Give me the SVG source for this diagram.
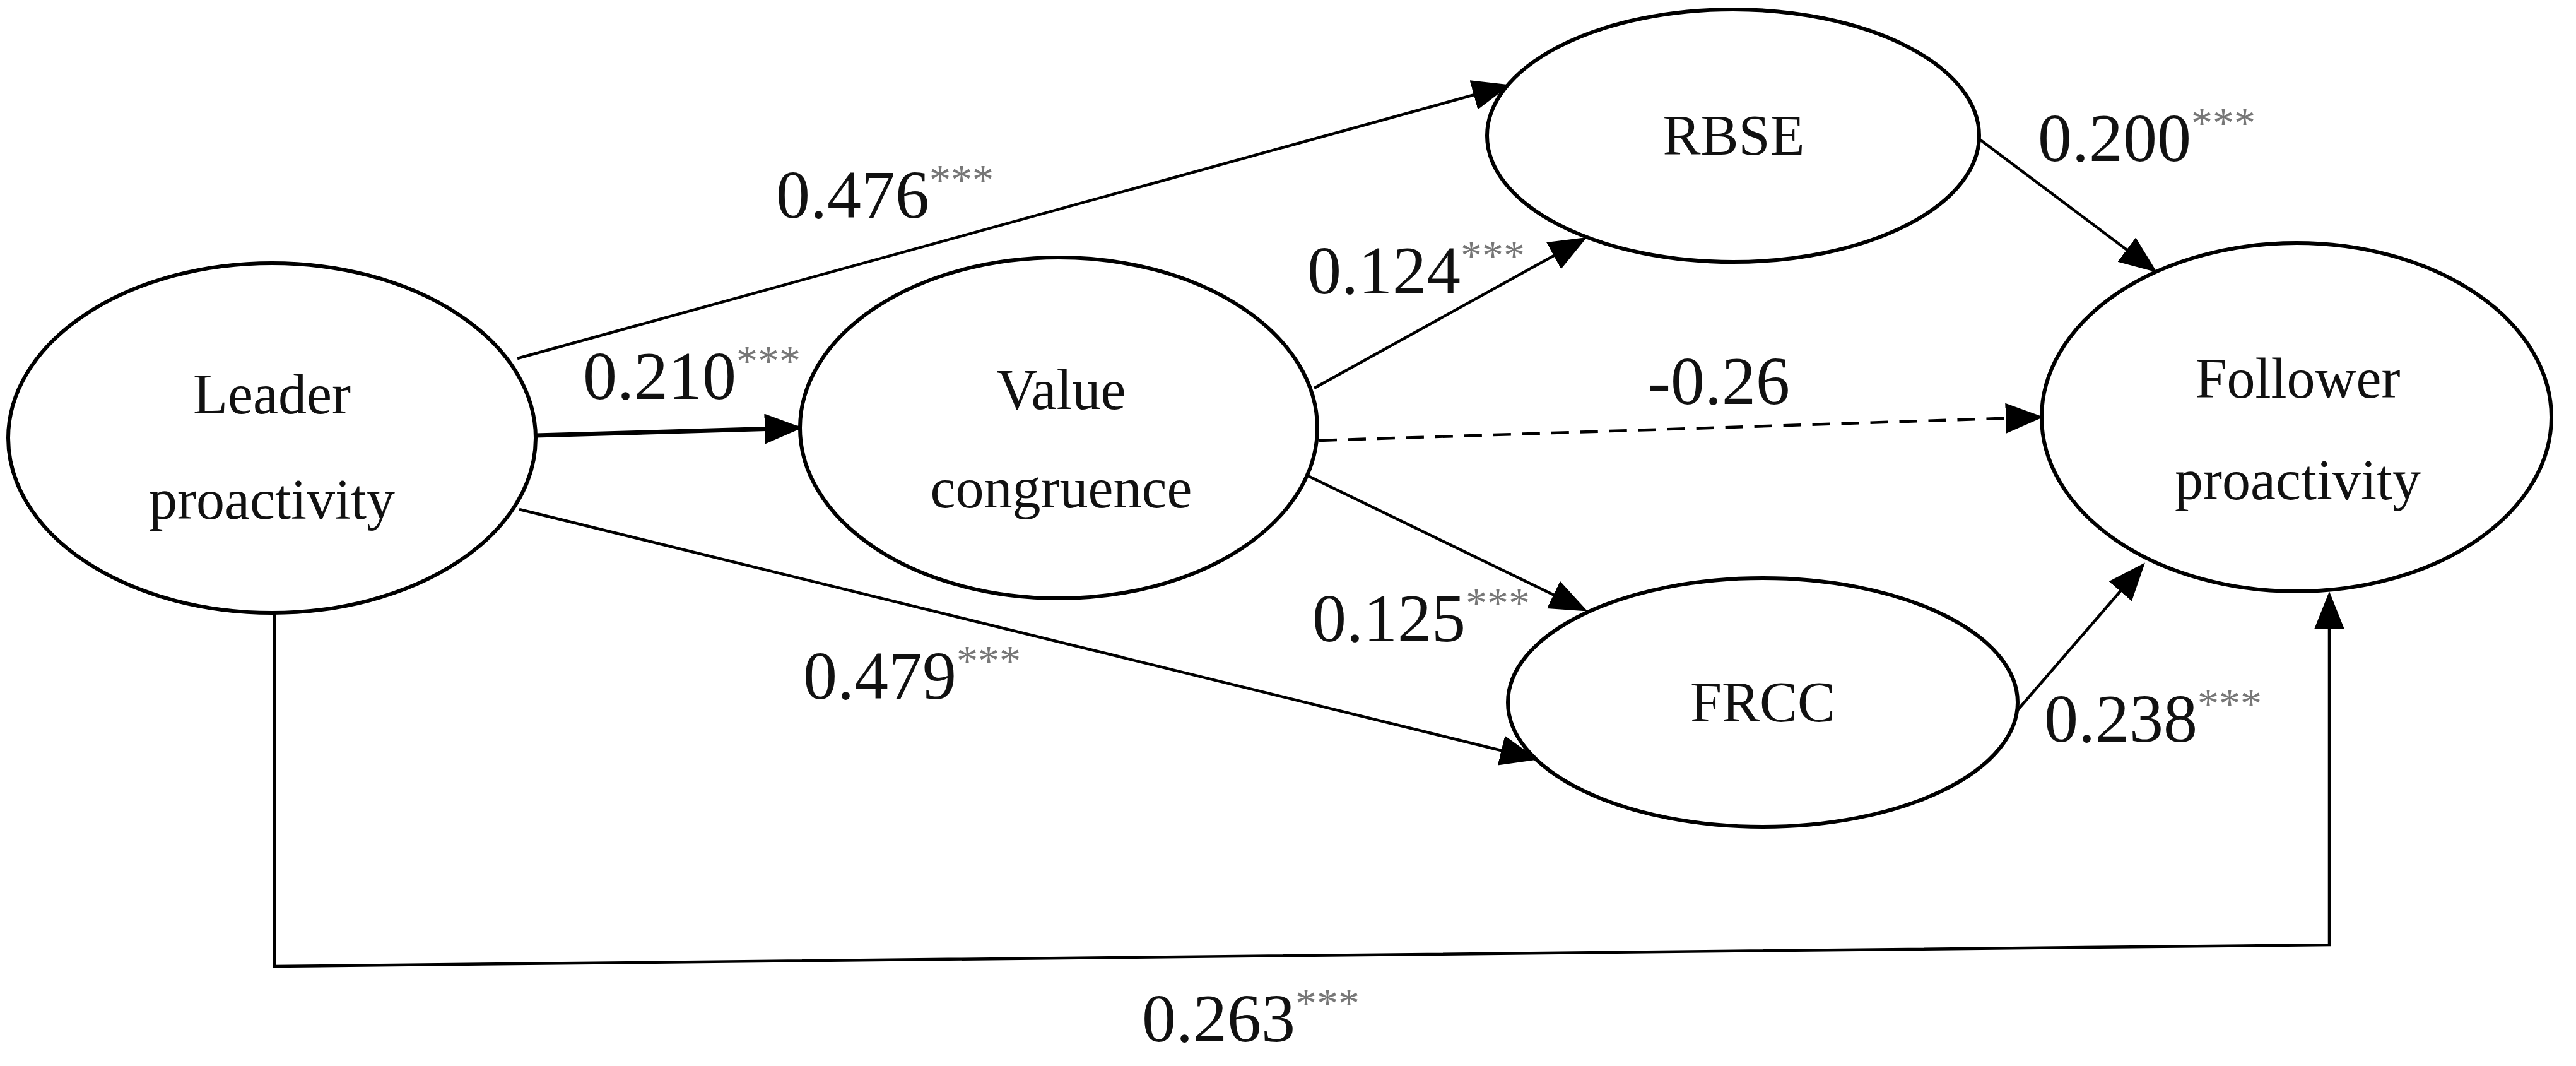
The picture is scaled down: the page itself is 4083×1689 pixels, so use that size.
<svg xmlns="http://www.w3.org/2000/svg" width="4083" height="1689" viewBox="0 0 4083 1689">
<style>
.node{fill:#fff;stroke:#000;stroke-width:6}
.nt{font-family:"Liberation Serif","Times New Roman",serif;font-size:90px;fill:#111;text-anchor:middle}
.lbl{font-family:"Liberation Serif","Times New Roman",serif;font-size:108px;fill:#111}
.st{font-size:68px;fill:#777}
.c{fill:none;stroke:#000;stroke-width:4.5}
.thick{stroke-width:7}
.dash{stroke-dasharray:28 18}
</style>
<defs>
<marker id="ah" markerUnits="userSpaceOnUse" markerWidth="66" markerHeight="52" refX="54" refY="24" orient="auto" viewBox="0 0 66 52">
<path d="M0,0 L60,24 L0,48 z" fill="#000"/>
</marker>
</defs>
<rect width="4083" height="1689" fill="#fff"/>
<g id="connectors">
<line class="c" x1="820" y1="568" x2="2388" y2="136" marker-end="url(#ah)"/>
<line class="c thick" x1="849" y1="690" x2="1266" y2="678" marker-end="url(#ah)"/>
<line class="c" x1="823" y1="807" x2="2432" y2="1202" marker-end="url(#ah)"/>
<line class="c" x1="2083" y1="615" x2="2510" y2="379" marker-end="url(#ah)"/>
<line class="c dash" x1="2091" y1="698" x2="3233" y2="661" marker-end="url(#ah)"/>
<line class="c" x1="2065" y1="750" x2="2511" y2="966" marker-end="url(#ah)"/>
<line class="c" x1="3138" y1="221" x2="3414" y2="428" marker-end="url(#ah)"/>
<line class="c" x1="3198" y1="1125" x2="3396" y2="896" marker-end="url(#ah)"/>
<path class="c" d="M435,971 L435,1531 L3692,1497 L3692,943" marker-end="url(#ah)"/>
</g>
<g id="leader">
<ellipse class="node" cx="431" cy="694" rx="418" ry="277"/>
<text class="nt" x="431" y="655">Leader</text>
<text class="nt" x="431" y="822">proactivity</text>
</g>
<g id="value">
<ellipse class="node" cx="1678" cy="678" rx="410" ry="270"/>
<text class="nt" x="1682" y="648">Value</text>
<text class="nt" x="1682" y="804">congruence</text>
</g>
<g id="rbse">
<ellipse class="node" cx="2747" cy="215" rx="390" ry="200"/>
<text class="nt" x="2748" y="245">RBSE</text>
</g>
<g id="frcc">
<ellipse class="node" cx="2794" cy="1113" rx="404" ry="197"/>
<text class="nt" x="2794" y="1143">FRCC</text>
</g>
<g id="follower">
<ellipse class="node" cx="3640" cy="661" rx="404" ry="276"/>
<text class="nt" x="3642" y="630">Follower</text>
<text class="nt" x="3642" y="791">proactivity</text>
</g>
<g id="labels">
<text class="lbl" x="1230" y="345">0.476<tspan class="st" dy="-38">***</tspan></text>
<text class="lbl" x="924" y="632">0.210<tspan class="st" dy="-38">***</tspan></text>
<text class="lbl" x="2072" y="465">0.124<tspan class="st" dy="-38">***</tspan></text>
<text class="lbl" x="2612" y="640">-0.26</text>
<text class="lbl" x="3230" y="255">0.200<tspan class="st" dy="-38">***</tspan></text>
<text class="lbl" x="2080" y="1016">0.125<tspan class="st" dy="-38">***</tspan></text>
<text class="lbl" x="1273" y="1107">0.479<tspan class="st" dy="-38">***</tspan></text>
<text class="lbl" x="3240" y="1175">0.238<tspan class="st" dy="-38">***</tspan></text>
<text class="lbl" x="1810" y="1650">0.263<tspan class="st" dy="-38">***</tspan></text>
</g>
</svg>
